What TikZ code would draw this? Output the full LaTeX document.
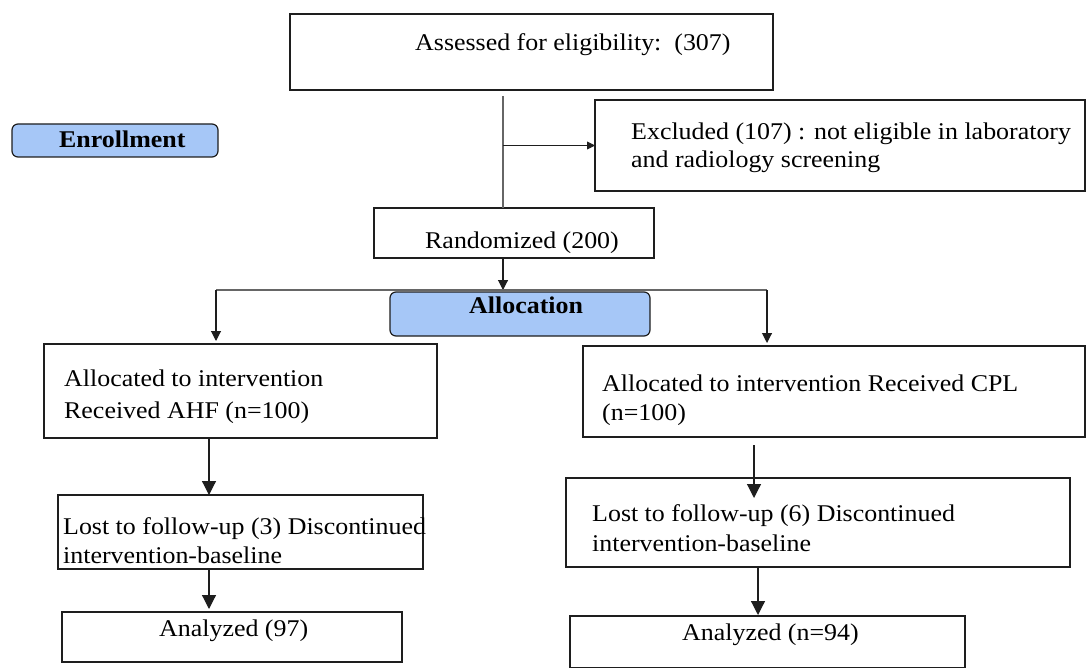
\documentclass[tikz,border=0pt]{standalone}
\usepackage{fontspec}
\setmainfont{Liberation Serif}[FakeStretch=1.08,BoldFont={Liberation Serif Bold},BoldFeatures={FakeStretch=1.08}]
\usetikzlibrary{arrows.meta,calc}
\definecolor{bluefill}{RGB}{166,199,247}
\definecolor{edge}{RGB}{30,30,30}
\begin{document}
\begin{tikzpicture}[x=1pt,y=-1pt,
  box/.style={draw=edge,line width=1.2pt,inner sep=0pt,outer sep=0pt},
  tag/.style={box,fill=bluefill,rounded corners=6pt},
  txt/.style={inner sep=0pt,anchor=base west,font=\fontsize{24}{30}\selectfont},
  btxt/.style={txt,font=\fontsize{24}{30}\selectfont\bfseries},
  arr/.style={draw=edge,line width=1.2pt,-{Triangle[length=14pt,width=14pt]}},
  marr/.style={draw=edge,line width=1.1pt,-{Triangle[length=10pt,width=10pt]}},
  sarr/.style={draw=edge,line width=0.9pt,-{Triangle[length=8pt,width=8pt]}},
  gline/.style={draw=black!60,line width=1.6pt}]
\useasboundingbox (0,0) rectangle (1086,668);
% boxes
\node[box,minimum width=483pt,minimum height=76pt] (assess) at (531.5,52) {};
\node[tag,minimum width=206pt,minimum height=33pt] (enroll) at (115,140.5) {};
\node[box,minimum width=490pt,minimum height=91pt] (excl) at (840,145.5) {};
\node[box,minimum width=280pt,minimum height=50pt] (rand) at (514,233) {};
\node[tag,minimum width=260pt,minimum height=44pt] (alloc) at (520,314) {};
\node[box,minimum width=393pt,minimum height=94pt] (L1) at (240.5,391) {};
\node[box,minimum width=502pt,minimum height=91pt] (R1) at (834,391.5) {};
\node[box,minimum width=365pt,minimum height=74pt] (L2) at (240.5,532) {};
\node[box,minimum width=504pt,minimum height=89pt] (R2) at (818,522.5) {};
\node[box,minimum width=340pt,minimum height=50pt] (L3) at (232,637) {};
\node[box,minimum width=395pt,minimum height=52pt] (R3) at (767.5,642) {};
% texts
\node[txt] (assessT) at (415,51) {Assessed for eligibility:\ \ (307)};
\node[btxt] (enrollT) at (59,148) {Enrollment};
\node[txt] (exclT1) at (631,140) {Excluded (107) : not eligible in laboratory};
\node[txt] (exclT2) at (631,168) {and radiology screening};
\node[txt] (randT) at (425,248) {Randomized (200)};
\node[btxt] (allocT) at (469,313) {Allocation};
\node[txt] (L1T1) at (64,386) {Allocated to intervention};
\node[txt] (L1T2) at (64,418) {Received AHF (n=100)};
\node[txt] (R1T1) at (602,391) {Allocated to intervention Received CPL};
\node[txt] (R1T2) at (602,420) {(n=100)};
\node[txt] (L2T1) at (63,534) {Lost to follow-up (3) Discontinued};
\node[txt] (L2T2) at (63,563) {intervention-baseline};
\node[txt] (R2T1) at (592,521) {Lost to follow-up (6) Discontinued};
\node[txt] (R2T2) at (592,551) {intervention-baseline};
\node[txt] (L3T) at (159,636) {Analyzed (97)};
\node[txt] (R3T) at (682,640) {Analyzed (n=94)};
% connector coordinates
\coordinate (v1) at (503,96);
\coordinate (hl) at (216,290);
\coordinate (hr) at (767,290);
\coordinate (cl) at (209,0);
\coordinate (cr1) at (754,445);
\coordinate (cr2) at (758,0);
% connectors
\draw[gline] (v1) -- (v1 |- rand.north);
\draw[sarr] (v1 |- excl.west) -- (excl.west);
\draw[marr] (v1 |- rand.south) -- (v1 |- hl);
\draw[gline,line width=1.3pt] (hl) -- (hr);
\draw[marr] (hl) -- ($(hl |- L1.north)+(0,-3)$);
\draw[marr] (hr) -- ($(hr |- R1.north)+(0,-3)$);
\draw[arr] (cl |- L1.south) -- (cl |- L2.north);
\draw[arr] (cl |- L2.south) -- ($(cl |- L3.north)+(0,-3)$);
\draw[arr] (cr1) -- ($(cr1 |- R2.north)+(0,20)$);
\draw[arr] (cr2 |- R2.south) -- ($(cr2 |- R3.north)+(0,-1)$);
\end{tikzpicture}
\end{document}
